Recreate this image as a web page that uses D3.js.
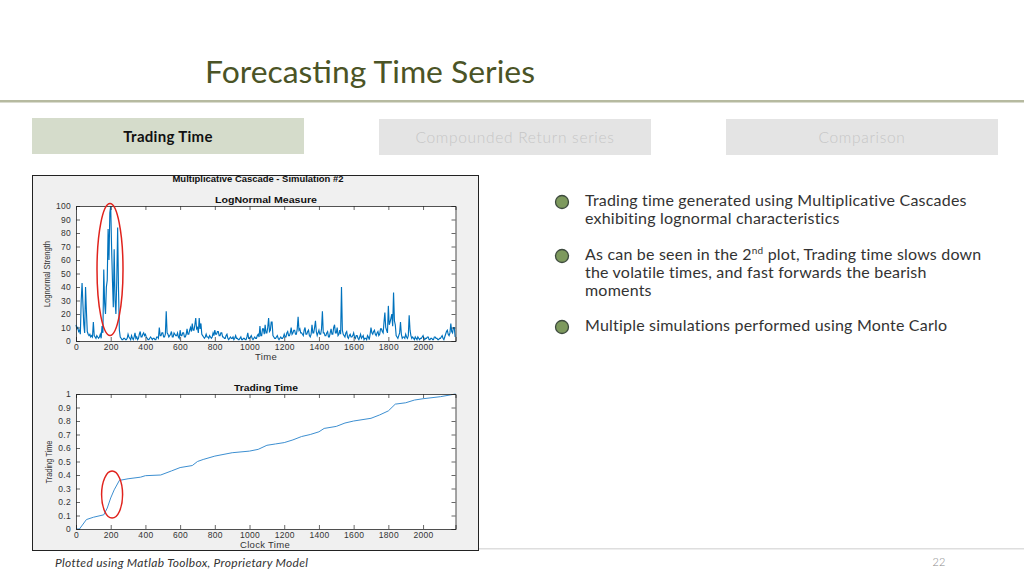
<!DOCTYPE html>
<html><head><meta charset="utf-8">
<script src="https://cdn.jsdelivr.net/npm/d3@7"></script>
<style>
html,body{margin:0;padding:0;background:#fff;}
svg{display:block;}
</style></head>
<body>
<svg id="c" width="1024" height="576"></svg>
<script>
// ---- Data ----
const measureStep = 5; // time units between samples
const lognormalValues = [
 12, 9, 10, 7, 8, 5, 30, 43, 27, 12, 6, 40, 22, 7, 5, 4, 5, 3, 4, 3,
 14, 4, 3, 2, 4, 3, 2, 3, 5, 2, 11, 6, 53, 28, 20, 40, 45, 83, 60, 95,
 100, 70, 45, 25, 68, 30, 20, 45, 84, 38, 8, 3, 2, 1, 1, 2, 2, 1, 1, 2,
 5, 3, 2, 1, 4, 2, 1, 3, 6, 2, 3, 1, 2, 5, 7, 3, 3, 5, 6, 4,
 5, 3, 2, 1, 1, 2, 3, 2, 1, 2, 2, 1, 1, 3, 3, 2, 10, 4, 4, 6,
 6, 3, 3, 5, 22, 6, 5, 3, 4, 5, 7, 3, 3, 6, 5, 4, 4, 6, 3, 2,
 8, 4, 4, 6, 6, 3, 3, 5, 9, 5, 5, 8, 10, 7, 13, 8, 8, 12, 17, 9,
 10, 6, 17, 9, 13, 5, 4, 3, 2, 3, 5, 3, 3, 2, 4, 3, 2, 3, 6, 4,
 8, 5, 5, 7, 7, 4, 4, 6, 6, 3, 3, 2, 2, 4, 5, 2, 1, 2, 3, 2,
 2, 3, 1, 2, 4, 2, 2, 1, 1, 2, 3, 1, 1, 2, 2, 1, 1, 3, 6, 2,
 2, 3, 4, 2, 1, 2, 3, 2, 2, 4, 5, 3, 11, 4, 4, 9, 9, 5, 12, 6,
 6, 10, 17, 7, 8, 14, 14, 4, 3, 2, 2, 3, 4, 2, 1, 2, 3, 2, 2, 3,
 5, 3, 3, 6, 7, 4, 4, 6, 10, 5, 6, 8, 8, 5, 5, 9, 18, 8, 9, 6,
 6, 5, 4, 8, 10, 5, 5, 7, 8, 4, 3, 5, 12, 6, 6, 10, 15, 7, 4, 6,
 8, 5, 5, 9, 22, 6, 6, 4, 4, 6, 7, 3, 3, 6, 9, 5, 5, 10, 12, 6,
 6, 10, 4, 5, 8, 5, 40, 8, 5, 4, 3, 6, 7, 3, 2, 4, 5, 3, 3, 4,
 6, 3, 2, 4, 4, 2, 1, 3, 5, 2, 3, 4, 1, 2, 2, 1, 4, 3, 1, 5,
 10, 6, 5, 7, 8, 5, 4, 6, 7, 4, 5, 9, 9, 7, 6, 14, 21, 10, 8, 6,
 26, 12, 14, 17, 20, 11, 36, 15, 12, 4, 3, 2, 4, 6, 14, 5, 2, 3, 3, 2,
 5, 3, 2, 4, 19, 8, 4, 2, 3, 2, 1, 3, 2, 1, 3, 2, 1, 2, 2, 3,
 4, 2, 1, 2, 2, 3, 3, 1, 1, 2, 2, 1, 1, 3, 3, 2, 2, 1, 1, 2,
 2, 3, 4, 2, 1, 3, 5, 7, 8, 5, 4, 6, 13, 7, 6, 10, 10, 3
];
const clockTime = [0, 20, 60, 100, 160, 180, 200, 220, 250, 300, 372, 400, 488, 550, 600, 670, 700, 733, 800, 900, 1000, 1050, 1100, 1150, 1200, 1250, 1300, 1350, 1400, 1430, 1500, 1550, 1600, 1700, 1750, 1800, 1840, 1900, 1950, 2000, 2100, 2187];
const tradingTime = [0, 0, 0.07, 0.087, 0.105, 0.155, 0.23, 0.29, 0.36, 0.372, 0.384, 0.395, 0.40, 0.43, 0.455, 0.47, 0.50, 0.515, 0.54, 0.565, 0.577, 0.59, 0.62, 0.63, 0.64, 0.66, 0.685, 0.70, 0.72, 0.745, 0.76, 0.785, 0.80, 0.82, 0.845, 0.875, 0.925, 0.935, 0.955, 0.965, 0.98, 1.0];
const xTicks = [0, 200, 400, 600, 800, 1000, 1200, 1400, 1600, 1800, 2000];
const yTicksTop = [0, 10, 20, 30, 40, 50, 60, 70, 80, 90, 100];
const yTicksBottom = [0, 0.1, 0.2, 0.3, 0.4, 0.5, 0.6, 0.7, 0.8, 0.9, 1];
const tabs = ["Trading Time", "Compounded Return series", "Comparison"];
const bullets = [
  ["Trading time generated using Multiplicative Cascades", "exhibiting lognormal characteristics"],
  ["As can be seen in the 2|nd| plot, Trading time slows down", "the volatile times, and fast forwards the bearish", "moments"],
  ["Multiple simulations performed using Monte Carlo"]
];

const svg = d3.select("#c");

// ---- Slide chrome ----
svg.append("text").attr("x", 205).attr("y", 83)
  .attr("font-family", "Lato, 'Open Sans', sans-serif").attr("font-size", 31).attr("font-weight", 400)
  .attr("fill", "#4b5426").attr("textLength", 330).attr("lengthAdjust", "spacingAndGlyphs")
  .text("Forecasting Time Series");
svg.append("rect").attr("x", 0).attr("y", 100).attr("width", 1024).attr("height", 2.5).attr("fill", "#b6baa0");

const tabX = [32, 379, 726];
tabs.forEach((t, i) => {
  svg.append("rect").attr("x", tabX[i]).attr("y", i === 0 ? 118 : 119).attr("width", 272).attr("height", 36)
    .attr("fill", i === 0 ? "#d5dccb" : "#e4e4e4");
  svg.append("text").attr("x", tabX[i] + 136).attr("y", i === 0 ? 142 : 143)
    .attr("text-anchor", "middle").attr("font-family", "Lato, sans-serif")
    .attr("font-size", i === 0 ? 15 : 15.5).attr("font-weight", i === 0 ? 700 : 300)
    .attr("letter-spacing", i === 0 ? 0.3 : 0.7)
    .attr("fill", i === 0 ? "#111" : "#c6c6c6")
    .text(t);
});

const bulletY = [201, 255, 326];
bullets.forEach((lines, i) => {
  svg.append("circle").attr("cx", 562).attr("cy", bulletY[i] + 1).attr("r", 6.5)
    .attr("fill", "#7d995d").attr("stroke", "#3d4a3e").attr("stroke-width", 1.3);
  lines.forEach((ln, j) => {
    const t = svg.append("text").attr("x", 585).attr("y", bulletY[i] + 5 + j * 18)
      .attr("font-family", "Lato, sans-serif").attr("font-size", 16).attr("letter-spacing", 0.2).attr("fill", "#333");
    ln.split("|").forEach((part, k) => {
      const ts = t.append("tspan").text(part);
      if (k === 1) ts.attr("font-size", 10).attr("dy", -6);
      if (k === 2) ts.attr("dy", 6);
    });
  });
});

svg.append("rect").attr("x", 479).attr("y", 548).attr("width", 545).attr("height", 1.5).attr("fill", "#dedede");
svg.append("text").attr("x", 55).attr("y", 567).attr("font-family", "Lato, sans-serif")
  .attr("font-size", 12).attr("font-weight", 400).attr("letter-spacing", 0.3).attr("font-style", "italic").attr("fill", "#333")
  .text("Plotted using Matlab Toolbox, Proprietary Model");
svg.append("text").attr("x", 939).attr("y", 566).attr("text-anchor", "middle").attr("font-family", "Lato, sans-serif")
  .attr("font-size", 11).attr("font-weight", 300).attr("fill", "#888").text("22");

// ---- MATLAB figure ----
svg.append("rect").attr("x", 32.5).attr("y", 175.5).attr("width", 446).attr("height", 375)
  .attr("fill", "#f0f0f0").attr("stroke", "#222").attr("stroke-width", 1);

const FF = "'Liberation Sans', Arial, sans-serif";
const x = d3.scaleLinear().domain([0, 2187]).range([76, 455.5]);
const yTop = d3.scaleLinear().domain([0, 100]).range([341, 206]);
const yBot = d3.scaleLinear().domain([0, 1]).range([529, 394]);

function drawAxes(y) {
  const g = svg.append("g");
  g.append("rect").attr("x", x.range()[0]).attr("y", y.range()[1])
    .attr("width", x.range()[1] - x.range()[0]).attr("height", y.range()[0] - y.range()[1])
    .attr("fill", "#fff");
  return g;
}
function finishAxes(g, y, yTicks, fmt) {
  const [x0, x1] = x.range(), [y0, y1] = [y.range()[0], y.range()[1]];
  const bottom = g.append("g").attr("transform", `translate(0,${y0})`)
    .call(d3.axisBottom(x).tickValues(xTicks).tickSize(-4).tickPadding(2.5).tickFormat(d3.format("d")));
  const top = g.append("g").attr("transform", `translate(0,${y1})`)
    .call(d3.axisTop(x).tickValues(xTicks).tickSize(-4).tickFormat(""));
  const left = g.append("g").attr("transform", `translate(${x0},0)`)
    .call(d3.axisLeft(y).tickValues(yTicks).tickSize(-4).tickPadding(5).tickFormat(fmt));
  const right = g.append("g").attr("transform", `translate(${x1},0)`)
    .call(d3.axisRight(y).tickValues(yTicks).tickSize(-4).tickFormat(""));
  [bottom, top, left, right].forEach(a => {
    a.select(".domain").attr("stroke", "#262626").attr("stroke-width", 0.8);
    a.selectAll(".tick line").attr("stroke", "#262626").attr("stroke-width", 0.7);
    a.selectAll("text").attr("font-family", FF).attr("font-size", 8.5).attr("letter-spacing", 0.3).attr("fill", "#333");
  });
}

// top plot
const gTop = drawAxes(yTop);
const measureLine = d3.line().x((d, i) => x(i * measureStep)).y(d => yTop(d));
gTop.append("path").datum(lognormalValues).attr("d", measureLine)
  .attr("fill", "none").attr("stroke", "#0072bd").attr("stroke-width", 1.15).attr("stroke-linejoin", "miter");
finishAxes(gTop, yTop, yTicksTop, d3.format("d"));
gTop.append("ellipse").attr("cx", x(196)).attr("cy", yTop(53)).attr("rx", 13).attr("ry", 66)
  .attr("fill", "none").attr("stroke", "#e0231d").attr("stroke-width", 1.5);

svg.append("text").attr("x", 258).attr("y", 182).attr("text-anchor", "middle").attr("font-family", FF)
  .attr("font-size", 8.5).attr("font-weight", 700).attr("fill", "#111")
  .attr("textLength", 171).attr("lengthAdjust", "spacingAndGlyphs").text("Multiplicative Cascade - Simulation #2");
svg.append("text").attr("x", 266).attr("y", 203).attr("text-anchor", "middle").attr("font-family", FF)
  .attr("font-size", 9).attr("font-weight", 700).attr("fill", "#111")
  .attr("textLength", 102).attr("lengthAdjust", "spacingAndGlyphs").text("LogNormal Measure");
svg.append("text").attr("x", 266).attr("y", 359.5).attr("text-anchor", "middle").attr("font-family", FF)
  .attr("font-size", 9.5).attr("letter-spacing", 0.3).attr("fill", "#333").text("Time");
svg.append("text").attr("transform", "translate(50,274) rotate(-90)").attr("text-anchor", "middle").attr("font-family", FF)
  .attr("font-size", 9.5).attr("fill", "#333").attr("textLength", 66).attr("lengthAdjust", "spacingAndGlyphs").text("Lognormal Strength");

// bottom plot
const gBot = drawAxes(yBot);
const ttLine = d3.line().x((d, i) => x(clockTime[i])).y(d => yBot(d));
gBot.append("path").datum(tradingTime).attr("d", ttLine)
  .attr("fill", "none").attr("stroke", "#3d8fd1").attr("stroke-width", 1);
finishAxes(gBot, yBot, yTicksBottom, d => d === 0 || d === 1 ? d3.format("d")(d) : d3.format(".1f")(d));
gBot.append("ellipse").attr("cx", x(208)).attr("cy", yBot(0.255)).attr("rx", 10.5).attr("ry", 23.5)
  .attr("fill", "none").attr("stroke", "#e0231d").attr("stroke-width", 1.5);

svg.append("text").attr("x", 266).attr("y", 391).attr("text-anchor", "middle").attr("font-family", FF)
  .attr("font-size", 9).attr("font-weight", 700).attr("fill", "#111")
  .attr("textLength", 64).attr("lengthAdjust", "spacingAndGlyphs").text("Trading Time");
svg.append("text").attr("x", 265).attr("y", 547.5).attr("text-anchor", "middle").attr("font-family", FF)
  .attr("font-size", 9.5).attr("letter-spacing", 0.3).attr("fill", "#333").text("Clock Time");
svg.append("text").attr("transform", "translate(52,462) rotate(-90)").attr("text-anchor", "middle").attr("font-family", FF)
  .attr("font-size", 9.5).attr("fill", "#333").attr("textLength", 43).attr("lengthAdjust", "spacingAndGlyphs").text("Trading Time");
</script>
</body></html>
